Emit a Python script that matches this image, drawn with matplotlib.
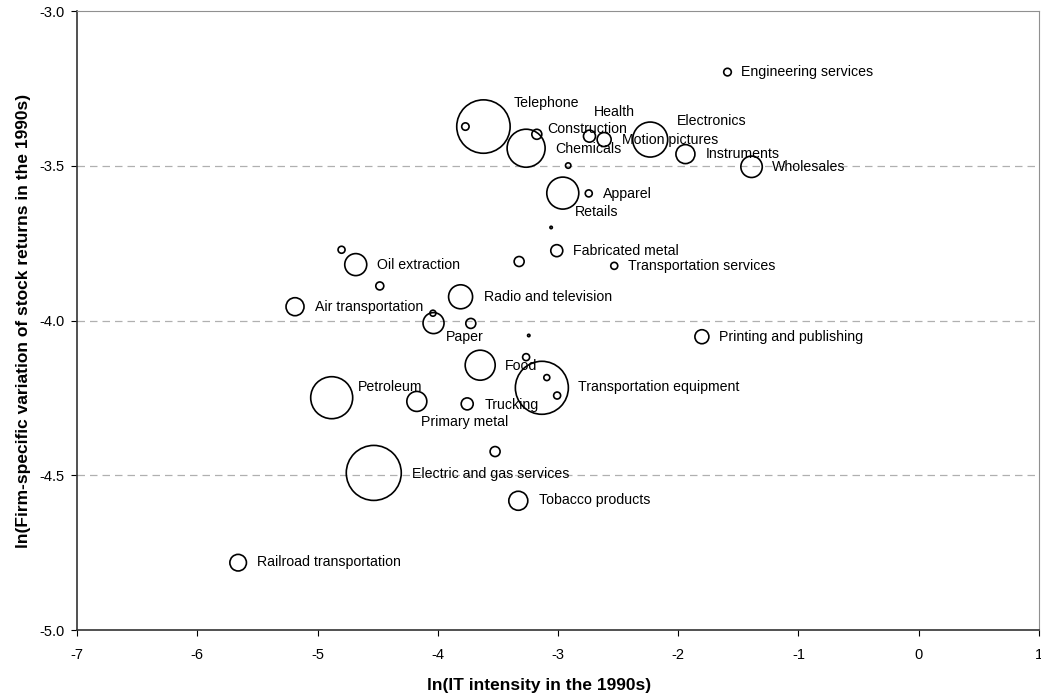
import matplotlib.pyplot as plt

plt.rcParams['font.family'] = ['Liberation Sans', 'DejaVu Sans']
plt.rcParams['axes.unicode_minus'] = False

# bubble centres (ln IT intensity, ln firm-specific variation) and relative size
x_vals = [-1.59, -3.62, -3.77, -3.265, -3.176, -2.738, -2.616, -2.233, -1.94,
          -1.39, -2.915, -2.96, -2.744, -3.057, -3.01, -2.532, -3.323, -4.80,
          -4.682, -4.482, -5.187, -3.81, -4.04, -4.035, -3.725, -3.243, -3.647,
          -3.265, -3.134, -3.093, -3.007, -4.882, -4.174, -3.755, -3.523,
          -4.532, -3.33, -5.66, -1.803]
y_vals = [-3.197, -3.373, -3.373, -3.443, -3.398, -3.404, -3.415, -3.415, -3.462,
          -3.503, -3.499, -3.588, -3.589, -3.699, -3.774, -3.823, -3.809, -3.771,
          -3.819, -3.888, -3.955, -3.923, -3.976, -4.008, -4.009, -4.048, -4.144,
          -4.118, -4.217, -4.184, -4.242, -4.249, -4.261, -4.269, -4.423,
          -4.492, -4.582, -4.782, -4.052]
radius = [3.8, 26.7, 3.7, 19, 5, 6, 7, 17.5, 9.5,
          10.7, 2.7, 16, 3.5, 1.2, 6, 3.5, 5, 3.5,
          11, 4, 9, 12, 3, 10.5, 5, 1.2, 15,
          3.5, 26.5, 3, 3.5, 21, 10, 6, 5,
          27.5, 9.5, 8.3, 7]

labels = ['Engineering services', 'Telephone', 'Health', 'Construction',
          'Electronics', 'Motion pictures', 'Chemicals', 'Instruments',
          'Wholesales', 'Apparel', 'Retails', 'Fabricated metal',
          'Transportation services', 'Oil extraction', 'Radio and television',
          'Air transportation', 'Paper', 'Printing and publishing', 'Food',
          'Transportation equipment', 'Petroleum', 'Trucking', 'Primary metal',
          'Electric and gas services', 'Tobacco products',
          'Railroad transportation']
# where each label's left edge sits (data coords)
label_x = [-1.476, -3.373, -2.699, -3.090, -2.008, -2.466, -3.023, -1.775,
           -1.218, -2.624, -2.857, -2.874, -2.416, -4.504, -3.614, -5.020,
           -3.930, -1.659, -3.439, -2.832, -4.662, -3.614, -4.138, -4.213,
           -3.156, -5.502]
label_y = [-3.197, -3.297, -3.326, -3.381, -3.355, -3.416, -3.445, -3.461,
           -3.503, -3.590, -3.648, -3.774, -3.823, -3.819, -3.923, -3.955,
           -4.052, -4.052, -4.145, -4.216, -4.213, -4.271, -4.329, -4.494,
           -4.581, -4.781]

fig = plt.figure(figsize=(10.41, 6.94), dpi=100)
ax = fig.add_axes([0.074, 0.092, 0.924, 0.892])

sizes = [(2 * r * 0.72) ** 2 for r in radius]
ax.scatter(x_vals, y_vals, s=sizes, facecolors='none', edgecolors='black',
           linewidths=1.2, zorder=3)

for lab, lx, ly in zip(labels, label_x, label_y):
    ax.text(lx, ly, lab, fontsize=10.2, ha='left', va='center', zorder=4)

ax.set_xlim(-7, 1)
ax.set_ylim(-5, -3)
ax.set_xticks(range(-7, 2))
ax.set_yticks([-5.0, -4.5, -4.0, -3.5, -3.0])
ax.set_yticklabels(['-5.0', '-4.5', '-4.0', '-3.5', '-3.0'])
for yv in [-4.5, -4.0, -3.5]:
    ax.axhline(yv, color='#b0b0b0', linestyle=(0, (6, 4)), linewidth=0.9, zorder=1)

ax.tick_params(direction='out', length=4, labelsize=10.5)
ax.tick_params(axis='x', pad=9)
ax.tick_params(axis='y', pad=5)
ax.spines['left'].set_color('#333333')
ax.spines['bottom'].set_color('#333333')
ax.spines['left'].set_linewidth(1.2)
ax.spines['bottom'].set_linewidth(1.2)
ax.spines['top'].set_color('#909090')
ax.spines['right'].set_color('#909090')

ax.set_xlabel('ln(IT intensity in the 1990s)', fontsize=12.5, fontweight='bold')
ax.xaxis.set_label_coords(0.48, -0.078)
ax.set_ylabel('ln(Firm-specific variation of stock returns in the 1990s)', fontsize=12.5,
              fontweight='bold', labelpad=6)

fig.savefig('out.png', dpi=100)
